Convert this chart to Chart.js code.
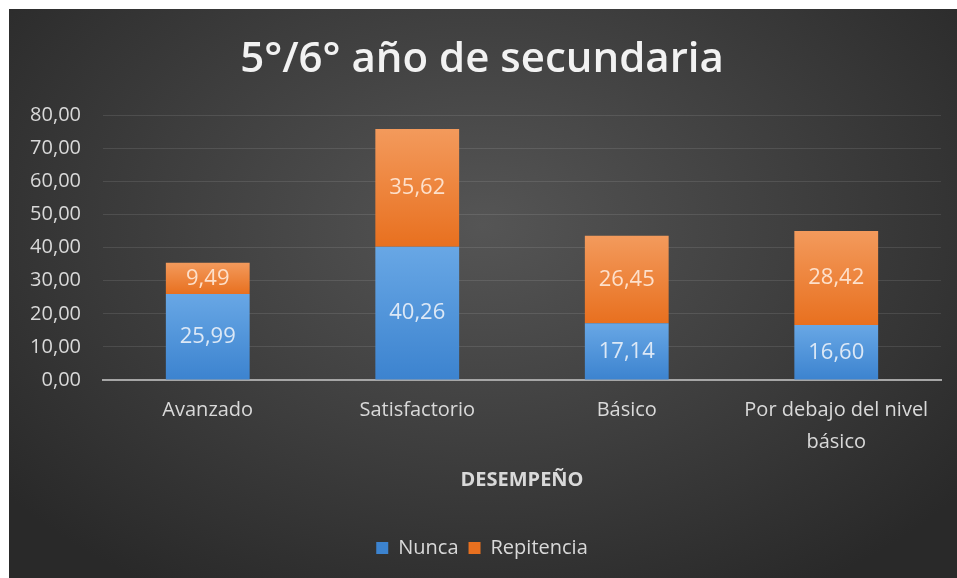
<!DOCTYPE html>
<html>
<head>
<meta charset="utf-8">
<script src="https://cdn.jsdelivr.net/npm/chart.js@4.4.1/dist/chart.umd.min.js"></script>
<style>
  html, body { margin: 0; padding: 0; background: #fff; }
  #panel {
    position: absolute; left: 9px; top: 9px; width: 948px; height: 569px;
    background: radial-gradient(ellipse 65% 75% at 50% 38%, #555555 0%, #3d3d3d 55%, #292929 100%);
  }
</style>
</head>
<body>
<div id="panel"><canvas id="chart" width="948" height="569"></canvas></div>
<script>
const categories = ["Avanzado", "Satisfactorio", "Básico", ["Por debajo del nivel", "básico"]];
const nunca = [25.99, 40.26, 17.14, 16.60];
const repitencia = [9.49, 35.62, 26.45, 28.42];
const seriesNames = ["Nunca", "Repitencia"];

const fmt = v => v.toFixed(2).replace('.', ',');

// vertical gradient per segment, built from the y scale
function segGradient(top, bottom) {
  return function (ctx) {
    const chart = ctx.chart;
    const y = chart.scales.y;
    if (!y || ctx.type !== 'data') return bottom;
    const i = ctx.dataIndex;
    let start = 0;
    for (let d = 0; d < ctx.datasetIndex; d++) start += chart.data.datasets[d].data[i];
    const end = start + ctx.raw;
    const y0 = y.getPixelForValue(end), y1 = y.getPixelForValue(start);
    if (!isFinite(y0) || !isFinite(y1)) return bottom;
    const g = chart.ctx.createLinearGradient(0, y0, 0, y1);
    g.addColorStop(0, top);
    g.addColorStop(1, bottom);
    return g;
  };
}

const labelColors = ["#dce8f6", "#fde0cb"];
const barLabels = {
  id: 'barLabels',
  afterDatasetsDraw(chart) {
    const ctx = chart.ctx;
    ctx.save();
    ctx.font = '22px "Open Sans"';
    ctx.textAlign = 'center';
    ctx.textBaseline = 'middle';
    chart.data.datasets.forEach((ds, di) => {
      chart.getDatasetMeta(di).data.forEach((bar, i) => {
        ctx.fillStyle = labelColors[di];
        ctx.fillText(fmt(ds.data[i]), bar.x, (bar.y + bar.base) / 2);
      });
    });
    ctx.restore();
  }
};

function draw() {
  new Chart(document.getElementById('chart'), {
    type: 'bar',
    data: {
      labels: categories,
      datasets: [
        { label: seriesNames[0], data: nunca, backgroundColor: segGradient('#68a7e5', '#3c83cf'), borderWidth: 0 },
        { label: seriesNames[1], data: repitencia, backgroundColor: segGradient('#f39a5c', '#e8701f'), borderWidth: 0 }
      ]
    },
    options: {
      responsive: false,
      animation: false,
      layout: { padding: { left: 14, right: 16, top: 14, bottom: 10 } },
      datasets: { bar: { barPercentage: 0.4, categoryPercentage: 1 } },
      plugins: {
        title: {
          display: true,
          text: '5°/6° año de secundaria',
          color: '#f2f2f2',
          font: { family: '"Open Sans"', size: 42, weight: '600' },
          padding: { top: 12, bottom: 30 }
        },
        legend: {
          position: 'bottom',
          labels: {
            color: '#d9d9d9',
            font: { family: '"Open Sans"', size: 20 },
            boxWidth: 12, boxHeight: 12, padding: 10
          }
        },
        tooltip: { enabled: false }
      },
      scales: {
        x: {
          stacked: true,
          grid: { display: false },
          border: { display: true, color: '#a6a6a6', width: 2 },
          ticks: { color: '#d9d9d9', font: { family: '"Open Sans"', size: 20, lineHeight: 1.6 }, padding: 6, maxRotation: 0 },
          title: {
            display: true, text: 'DESEMPEÑO', color: '#d9d9d9',
            font: { family: '"Open Sans"', size: 20, weight: 'bold' },
            padding: { top: 4, bottom: 36 }
          }
        },
        y: {
          stacked: true,
          min: 0, max: 80,
          afterFit: s => { s.width = 80; },
          grid: { color: 'rgba(255,255,255,0.10)', lineWidth: 1, drawTicks: false },
          border: { display: false },
          ticks: { stepSize: 10, color: '#d9d9d9', font: { family: '"Open Sans"', size: 20 }, padding: 22,
            callback: v => fmt(v) }
        }
      }
    },
    plugins: [barLabels]
  });
}

document.fonts.load('20px "Open Sans"').then(() => document.fonts.load('bold 20px "Open Sans"'))
  .then(() => document.fonts.load('600 42px "Open Sans"')).then(draw, draw);
</script>
</body>
</html>
